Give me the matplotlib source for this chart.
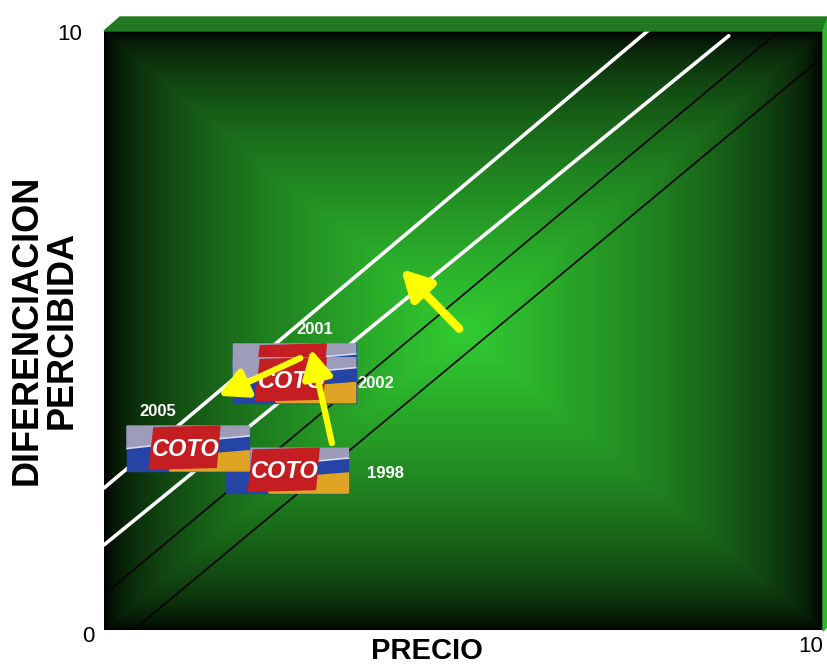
import numpy as np
import matplotlib
matplotlib.use("Agg")
import matplotlib.pyplot as plt
from matplotlib.patches import Polygon

plt.rcParams['font.family'] = ['Liberation Sans', 'DejaVu Sans']

# posicionamiento de la marca por año (precio, diferenciacion percibida)
years = ["1998", "2001", "2002", "2005"]
precio = [2.55, 2.65, 2.65, 1.17]
diferenciacion = [2.66, 4.40, 4.17, 3.03]
year_label_xy = {"1998": (3.91, 2.62), "2001": (2.93, 5.01),
                 "2002": (3.78, 4.12), "2005": (0.75, 3.64)}

# lineas de posicionamiento (x0, y0, x1, y1)
white_lines = [(0.0, 2.37, 7.61, 10.05), (0.0, 1.42, 8.69, 9.92)]
black_lines = [(0.04, 0.63, 9.36, 9.97), (0.43, 0.02, 10.0, 9.57)]

# flechas de movimiento (desde, hasta)
arrows = [((4.94, 5.03), (4.13, 6.03), 6.0),
          ((3.17, 3.12), (2.88, 4.69), 4.5),
          ((2.73, 4.54), (1.59, 3.91), 4.5)]

logo_w, logo_h = 1.70, 0.75


def draw_logo(ax, cx, cy, z, label=True):
    x0, y0 = cx - logo_w / 2, cy - logo_h / 2

    def pts(rel):
        return [(x0 + u * logo_w, y0 + v * logo_h) for u, v in rel]

    ax.add_patch(Polygon(pts([(0, 0), (1, 0), (1, 1), (0, 1)]), color='#2444a6', zorder=z))
    ax.add_patch(Polygon(pts([(0, 1), (1, 1), (1, 0.80), (0.6, 0.70), (0, 0.52)]),
                         color='#9d9db9', zorder=z))
    ax.plot(*zip(*pts([(0, 0.50), (0.6, 0.68), (1, 0.78)])), color='#d8d8f0', lw=1.2, zorder=z)
    ax.add_patch(Polygon(pts([(0.35, 0), (1, 0), (1, 0.45), (0.6, 0.36), (0.35, 0.28)]),
                         color='#e0a424', zorder=z))
    ax.add_patch(Polygon(pts([(0.18, 0.04), (0.73, 0.08), (0.76, 1.0), (0.22, 0.96)]),
                         color='#c41e22', zorder=z + 0.1))
    if label:
        ax.text(cx - 0.04, cy - 0.02, "COTO", color='white', fontsize=17,
                fontweight='bold', style='italic', ha='center', va='center', zorder=z + 0.2)


fig = plt.figure(figsize=(8.28, 6.64), dpi=100)
ax = fig.add_axes([104 / 828, 34 / 664, 719 / 828, 599 / 664])
ax.set_xlim(0, 10)
ax.set_ylim(0, 10)
ax.axis('off')

# fondo con degradado desde el centro
n = 400
u = np.linspace(-1, 1, n)
U, V = np.meshgrid(u, u)
d = np.maximum(np.abs(U), np.abs(V))
b = np.clip(1 - d, 0, 1) ** 0.6
center = np.array([50, 204, 50]) / 255.0
img = b[..., None] * center[None, None, :]
ax.imshow(img, extent=[0, 10, 0, 10], origin='lower', aspect='auto', zorder=0,
          interpolation='bilinear')

# borde 3D superior y derecho
fig.patches.append(Polygon([(104 / 828, 1 - 31 / 664), (120 / 828, 1 - 17 / 664),
                            (828 / 828, 1 - 17 / 664), (823 / 828, 1 - 31 / 664)],
                           closed=True, transform=fig.transFigure, color='#217a21'))
fig.patches.append(Polygon([(823 / 828, 1 - 31 / 664), (828 / 828, 1 - 17 / 664),
                            (828 / 828, 1 - 626 / 664), (823 / 828, 1 - 631 / 664)],
                           closed=True, transform=fig.transFigure, color='#2fb52f'))

for x0, y0, x1, y1 in white_lines:
    ax.plot([x0, x1], [y0, y1], color='white', lw=2.6, solid_capstyle='round',
            zorder=2, clip_on=False)
for x0, y0, x1, y1 in black_lines:
    ax.plot([x0, x1], [y0, y1], color='black', lw=1.2, zorder=2, clip_on=False)

# orden de dibujo: 1998, 2001, 2002, 2005 (cada uno tapa al anterior);
# el logo de 2001 queda casi oculto bajo el de 2002
for i, (yr, px, py) in enumerate(zip(years, precio, diferenciacion)):
    draw_logo(ax, px, py, 5 + i, label=(yr != "2001"))

for yr, (tx, ty) in year_label_xy.items():
    ax.text(tx, ty, yr, color='white', fontsize=12, fontweight='bold',
            ha='center', va='center', zorder=10)

for (xa, ya), (xb, yb), lw in arrows:
    ax.annotate("", xy=(xb, yb), xytext=(xa, ya), zorder=11,
                arrowprops=dict(arrowstyle='-|>,head_length=0.45,head_width=0.24',
                                mutation_scale=38, lw=lw, color='#ffff00',
                                shrinkA=0, shrinkB=0))

fig.text(88 / 828, 1 - 637 / 664, "0", fontsize=16, ha='center', va='center')
fig.text(70 / 828, 1 - 35 / 664, "10", fontsize=16, ha='center', va='center')
fig.text(811 / 828, 1 - 647 / 664, "10", fontsize=16, ha='center', va='center')
fig.text(427 / 828, 1 - 651 / 664, "PRECIO", fontsize=21, fontweight='bold',
         ha='center', va='center')
fig.text(45 / 828, 1 - 330 / 664, "DIFERENCIACION\nPERCIBIDA", fontsize=26,
         fontweight='bold', rotation=90, ha='center', va='center',
         multialignment='center', linespacing=1.0)

fig.savefig("out.png", dpi=100)
